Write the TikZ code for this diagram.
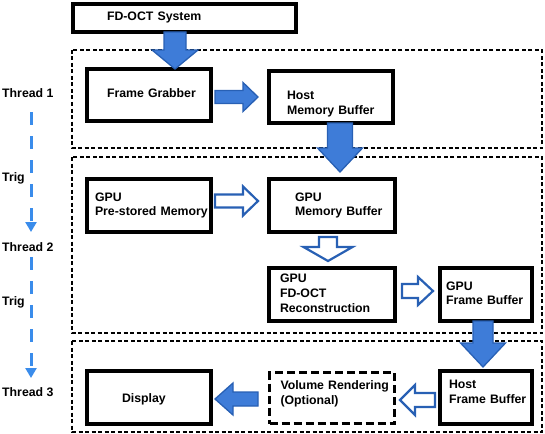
\documentclass[tikz,border=0pt]{standalone}
\usepackage{fontspec}
\setmainfont{Liberation Sans}
\usetikzlibrary{calc,arrows.meta}
\definecolor{afill}{RGB}{62,124,216}
\definecolor{aedge}{RGB}{40,96,180}
\definecolor{dblue}{RGB}{58,140,235}
% #1 style, #2 start, #3 tip, #4 half shaft, #5 half head, #6 head length
\newcommand\blockarrow[6]{%
  \draw[#1] let \p1=($#3!#6!#2$) in
    ($#2!#4!90:#3$) -- ($(\p1)!#4!90:#3$) -- ($(\p1)!#5!90:#3$) -- #3
    -- ($(\p1)!#5!-90:#3$) -- ($(\p1)!#4!-90:#3$) -- ($#2!#4!-90:#3$) -- cycle;}
\begin{document}
\begin{tikzpicture}[x=1pt,y=-1pt,
  font=\fontsize{12.3}{14.8}\selectfont\bfseries,
  box/.style={draw=black,line width=3.1pt,rectangle,outer sep=0pt,inner ysep=0pt,align=left},
  bx/.style n args={4}{box,inner xsep=#1,text width=#2,minimum width=#3,minimum height=#4},
  region/.style={draw=black,line width=1.3pt,dash pattern=on 4pt off 2.5pt},
  fatarrow/.style={fill=afill,draw=aedge,line width=1.3pt,line join=miter},
  openarrow/.style={fill=white,draw=aedge,line width=2.2pt,line join=miter},
  lbl/.style={anchor=west,inner sep=0pt},
  trig/.style={draw=dblue,line width=3pt,dash pattern=on 13pt off 11pt,-{Triangle[width=11pt,length=10pt]}}
]
\useasboundingbox (0,0) rectangle (545,433);

% dashed thread regions
\draw[region] (72,50) rectangle (542,148);
\draw[region] (72,157) rectangle (542,333);
\draw[region] (72,341) rectangle (542,432);

% boxes
\node[bx={34pt}{155pt}{223pt}{28pt}] (fdoct) at (184.5,18) {\begin{tabular}{@{}l@{}}FD-OCT System\end{tabular}};
\node[bx={20pt}{84pt}{124pt}{52pt}] (fg) at (149,95) {\begin{tabular}{@{}l@{}}Frame Grabber\end{tabular}};
\node[bx={18pt}{88pt}{124pt}{52pt}] (hmb) at (331,97) {\begin{tabular}{@{}l@{}}\mbox{}\\[-1pt]Host\\Memory Buffer\end{tabular}};
\node[bx={8pt}{108pt}{124pt}{53pt}] (gpm) at (149,205.5) {\begin{tabular}{@{}l@{}}GPU\\Pre-stored Memory\end{tabular}};
\node[bx={26pt}{74pt}{126pt}{53pt}] (gmb) at (332,205.5) {\begin{tabular}{@{}l@{}}GPU\\Memory Buffer\end{tabular}};
\node[bx={11pt}{104pt}{126pt}{53pt}] (rec) at (332,294.5) {\begin{tabular}{@{}l@{}}GPU\\FD-OCT\\Reconstruction\end{tabular}};
\node[bx={6pt}{80pt}{92pt}{53pt}] (gfb) at (486,294.5) {\begin{tabular}{@{}l@{}}GPU\\Frame Buffer\end{tabular}};
\node[bx={9pt}{74pt}{92pt}{53pt}] (hfb) at (486,397.5) {\begin{tabular}{@{}l@{}}Host\\Frame Buffer\\[-6pt]\mbox{}\end{tabular}};
\node[bx={11pt}{103pt}{125pt}{51pt},line width=3.4pt,dash pattern=on 8pt off 4pt] (vr) at (332,398) {\begin{tabular}{@{}l@{}}Volume Rendering\\(Optional)\\[-7pt]\mbox{}\end{tabular}};
\node[bx={35pt}{54pt}{124pt}{53pt}] (disp) at (149,397.5) {\begin{tabular}{@{}l@{}}\mbox{}\\[-10pt]Display\end{tabular}};

% left labels
\node[lbl] (t1) at (2,93) {Thread 1};
\node[lbl] (tr1) at (2,178) {Trig};
\node[lbl] (t2) at (2,247) {Thread 2};
\node[lbl] (tr2) at (2,302) {Trig};
\node[lbl] (t3) at (2,392) {Thread 3};
\coordinate (dl) at (31,0);
\draw[trig] ($(t1 -| dl)+(0,19)$) -- ($(t2 -| dl)+(0,-15)$);
\draw[trig] ($(t2 -| dl)+(0,10)$) -- ($(t3 -| dl)+(0,-14)$);

% arrow end points
\coordinate (a1s) at ($(fdoct.south)+(-9.5,0)$);
\coordinate (a1t) at ($(fg.north)+(26,0)$);
\coordinate (a2s) at ($(fg.east)+(4,2)$);
\coordinate (a2t) at ($(hmb.west)+(-11,0)$);
\coordinate (a3s) at ($(hmb.south)+(9,0)$);
\coordinate (a3t) at ($(gmb.north)+(8,-7)$);
\coordinate (a4s) at ($(gfb.south)+(-3,0)$);
\coordinate (a4t) at ($(hfb.north)+(-3,-4)$);
\coordinate (a5s) at ($(vr.west)+(-11.5,1)$);
\coordinate (a5t) at ($(disp.east)+(4,1.5)$);
\coordinate (o1s) at ($(gpm.east)+(4,-4.5)$);
\coordinate (o1t) at ($(gmb.west)+(-11,-4.5)$);
\coordinate (o2s) at ($(gmb.south)+(-4,5)$);
\coordinate (o2t) at ($(rec.north)+(-4,-7)$);
\coordinate (o3s) at ($(rec.east)+(7,-3.5)$);
\coordinate (o3t) at ($(gfb.west)+(-7,-3.5)$);
\coordinate (o4s) at ($(hfb.west)+(-5,2.5)$);
\coordinate (o4t) at ($(vr.east)+(5.5,2)$);

% filled block arrows
\blockarrow{fatarrow}{(a1s)}{(a1t)}{11pt}{23pt}{19pt}
\blockarrow{fatarrow}{(a2s)}{(a2t)}{6.5pt}{14.5pt}{15pt}
\blockarrow{fatarrow}{(a3s)}{(a3t)}{12.5pt}{22.5pt}{24pt}
\blockarrow{fatarrow}{(a4s)}{(a4t)}{10pt}{22.5pt}{24pt}
\blockarrow{fatarrow}{(a5s)}{(a5t)}{7pt}{16pt}{18pt}
% open block arrows
\blockarrow{openarrow}{(o1s)}{(o1t)}{6.5pt}{14.5pt}{15pt}
\blockarrow{openarrow}{(o2s)}{(o2t)}{9pt}{24.5pt}{14pt}
\blockarrow{openarrow}{(o3s)}{(o3t)}{7pt}{14pt}{15pt}
\blockarrow{openarrow}{(o4s)}{(o4t)}{7pt}{15pt}{15pt}
\end{tikzpicture}
\end{document}
